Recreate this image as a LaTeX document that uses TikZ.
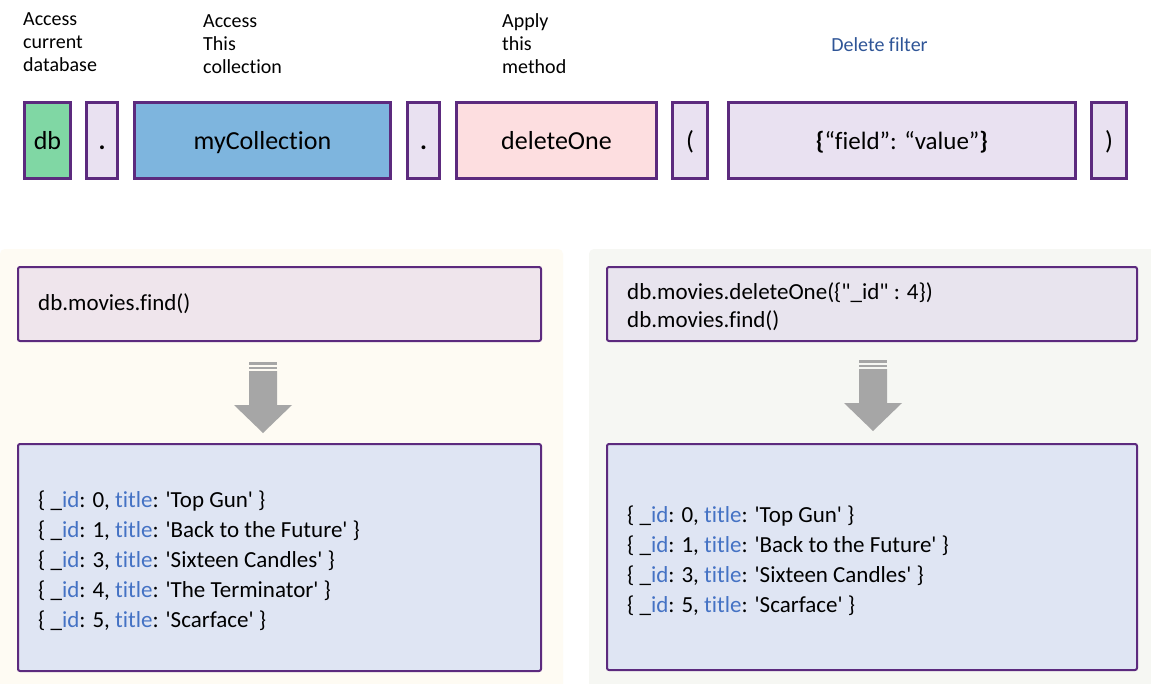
\documentclass[tikz,border=0pt]{standalone}
\usepackage{fontspec}
\setmainfont{Carlito}[Ligatures={TeX,NoCommon}]
\definecolor{purp}{HTML}{5C2A7E}
\definecolor{dbgreen}{HTML}{80D7A4}
\definecolor{lav}{HTML}{E9E1F1}
\definecolor{collblue}{HTML}{7EB5DE}
\definecolor{methpink}{HTML}{FDDEE0}
\definecolor{filtblue}{HTML}{2F5597}
\definecolor{cream}{HTML}{FEFBF3}
\definecolor{pgrey}{HTML}{F6F7F3}
\definecolor{qleft}{HTML}{EFE5EC}
\definecolor{qright}{HTML}{E8E4EE}
\definecolor{resfill}{HTML}{DFE5F3}
\definecolor{idblue}{HTML}{4472C4}
\definecolor{arrgrey}{HTML}{A6A6A6}
\newcommand{\rec}[2]{\{ \_\textcolor{idblue}{id}: #1, \textcolor{idblue}{title}: \textquotesingle #2\textquotesingle\ \}}
\tikzset{
  topbox/.style={draw=purp, line width=3pt, minimum height=76pt, inner sep=0pt,
    font=\fontsize{26}{30}\selectfont, text height=22pt, text depth=5pt},
  lbl/.style={anchor=west, align=left, inner sep=0pt, font=\fontsize{20}{23}\selectfont},
  qbox/.style={draw=purp, line width=2pt, rounded corners=2pt},
  txt/.style={anchor=west, align=left, inner sep=0pt},
  grarrow/.style={fill=arrgrey, draw=none}
}
\begin{document}
\begin{tikzpicture}[x=1pt,y=-1pt]
\useasboundingbox (0,0) rectangle (1151,683);
\fill[white] (0,0) rectangle (1151,683);

% top labels
\node[lbl] (l1) at (23,42) {Access\\current\\database};
\node[lbl] (l2) at (203,44) {Access\\This\\collection};
\node[lbl] (l3) at (502,44) {Apply\\this\\method};
\node[inner sep=0pt, text=filtblue, font=\fontsize{20}{24}\selectfont] (l4) at (879.5,45) {Delete filter};

% top boxes
\node[topbox, fill=dbgreen, minimum width=46pt] (db) at (47.5,140.5) {db};
\node[topbox, fill=lav, minimum width=31pt] (dot1) at (102,140.5) {\textbf{.}};
\node[topbox, fill=collblue, minimum width=256pt] (coll) at (262.5,140.5) {myCollection};
\node[topbox, fill=lav, minimum width=32pt] (dot2) at (423.5,140.5) {\textbf{.}};
\node[topbox, fill=methpink, minimum width=200pt] (meth) at (556.5,140.5) {deleteOne};
\node[topbox, fill=lav, minimum width=35pt] (lp) at (690,140.5) {(};
\node[topbox, fill=lav, minimum width=347pt, font=\fontsize{25}{30}\selectfont] (filt) at (902,140.5) {\textbf{\{}“field”: “value”\textbf{\}}};
\node[topbox, fill=lav, minimum width=35pt] (rp) at (1109,140.5) {)};

% panels
\fill[cream, rounded corners=5pt] (0,249) rectangle (563,690);
\fill[pgrey, rounded corners=5pt] (589,249) rectangle (1158,690);

% query boxes
\draw[qbox, fill=qleft] (18,267) rectangle (541,341);
\node[txt, font=\fontsize{23}{28}\selectfont] (q1) at (38,304) {db.movies.find()};
\draw[qbox, fill=qright] (607,267) rectangle (1137,341);
\node[txt, font=\fontsize{23}{28}\selectfont] (q2) at (627,307) {db.movies.deleteOne(\{\textquotedbl\_id\textquotedbl\ : 4\})\\db.movies.find()};

% arrows
\foreach \c/\t in {263/362, 873/360}{
  \fill[grarrow] (\c-14,\t) rectangle (\c+14,\t+2.5);
  \fill[grarrow] (\c-14,\t+4.5) rectangle (\c+14,\t+7);
  \fill[grarrow] (\c-14,\t+9) -- (\c+14,\t+9) -- (\c+14,\t+43) -- (\c+29,\t+43)
     -- (\c,\t+71) -- (\c-29,\t+43) -- (\c-14,\t+43) -- cycle;
}

% result boxes
\draw[qbox, fill=resfill] (18,444) rectangle (541,671);
\node[txt, font=\fontsize{23}{30}\selectfont] (r1) at (38,561) {\rec{0}{Top Gun}\\\rec{1}{Back to the Future}\\\rec{3}{Sixteen Candles}\\\rec{4}{The Terminator}\\\rec{5}{Scarface}};
\draw[qbox, fill=resfill] (607,444) rectangle (1137,670);
\node[txt, font=\fontsize{23}{30}\selectfont] (r2) at (627,561) {\rec{0}{Top Gun}\\\rec{1}{Back to the Future}\\\rec{3}{Sixteen Candles}\\\rec{5}{Scarface}};
\end{tikzpicture}
\end{document}
